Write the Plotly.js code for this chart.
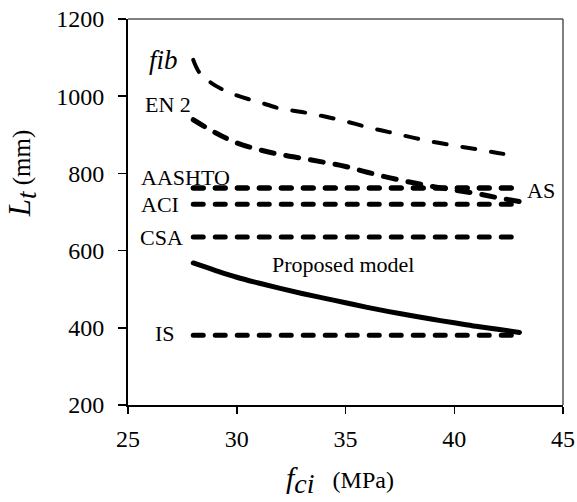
<!DOCTYPE html>
<html>
<head>
<meta charset="utf-8">
<script src="https://cdn.plot.ly/plotly-3.0.1.min.js"></script>
<style>html,body{margin:0;padding:0;background:#fff;} #chart{width:577px;height:502px;}</style>
</head>
<body>
<div id="chart"></div>
<script>
// Concrete strength at transfer, f_ci (MPa)
const fci = [28, 29, 30, 31, 32, 33, 34, 35, 36, 37, 38, 39, 40, 41, 42, 43];
const fibX = [28, 28.3, 29, 30, 31, 32, 33, 34, 35, 36, 37, 38, 39, 40, 41, 42, 43];
const fibY = [1094, 1060, 1028, 1002, 985, 968, 959, 948, 935, 920, 907, 894, 882, 872, 863, 853, 844];
const en2Y = [939, 906, 879, 862, 849, 839, 829, 818, 803, 789, 777, 766, 757, 748, 737, 727];
const proposedY = [568, 549, 531, 516, 502, 489, 477, 465, 453, 442, 432, 422, 413, 404, 396, 388];
const aashtoY = [762, 762, 762, 762, 762, 762, 762, 762, 762, 762, 762, 762, 762, 762, 762, 762];
const asY = [762, 762, 762, 762, 762, 762, 762, 762, 762, 762, 762, 762, 762, 762, 762, 762];
const aciY = [720, 720, 720, 720, 720, 720, 720, 720, 720, 720, 720, 720, 720, 720, 720, 720];
const csaY = [635, 635, 635, 635, 635, 635, 635, 635, 635, 635, 635, 635, 635, 635, 635, 635];
const isY = [381, 381, 381, 381, 381, 381, 381, 381, 381, 381, 381, 381, 381, 381, 381, 381];
const xTicks = [25, 30, 35, 40, 45];
const yTicks = [200, 400, 600, 800, 1000, 1200];

const FONT = "Liberation Serif, Times New Roman, serif";
const hDash = {color: '#000', width: 5, dash: '10px,12px'};

const traces = [
  {x: fibX, y: fibY, name: 'fib', mode: 'lines', line: {color: '#000', width: 4, dash: '13px,16px', shape: 'spline'}},
  {x: fci, y: en2Y, name: 'EN 2', mode: 'lines', line: {color: '#000', width: 5, dash: '13px,12px', shape: 'spline'}},
  {x: fci, y: aashtoY, name: 'AASHTO', mode: 'lines', line: hDash},
  {x: fci, y: asY, name: 'AS', mode: 'lines', line: hDash},
  {x: fci, y: aciY, name: 'ACI', mode: 'lines', line: hDash},
  {x: fci, y: csaY, name: 'CSA', mode: 'lines', line: hDash},
  {x: fci, y: isY, name: 'IS', mode: 'lines', line: hDash},
  {x: fci, y: proposedY, name: 'Proposed model', mode: 'lines', line: {color: '#000', width: 5, shape: 'spline'}}
];

function lab(text, x, y, size, anchor) {
  return {text: text, x: x, y: y, xref: 'x', yref: 'y', showarrow: false,
          xanchor: anchor || 'left', yanchor: 'middle', font: {family: FONT, size: size || 22, color: '#000'}};
}

const layout = {
  width: 577, height: 502,
  margin: {l: 128, r: 14, t: 19, b: 97},
  paper_bgcolor: '#fff', plot_bgcolor: '#fff',
  showlegend: false,
  font: {family: FONT, color: '#000'},
  xaxis: {
    range: [25, 45], tickvals: xTicks, ticktext: xTicks.map(String),
    showline: true, linecolor: '#000', linewidth: 2, ticks: 'outside', ticklen: 7, tickwidth: 1.5, tickcolor: '#000',
    ticklabelstandoff: 4,
    showgrid: false, zeroline: false, tickfont: {family: FONT, size: 24, color: '#000'}
  },
  yaxis: {
    range: [200, 1200], tickvals: yTicks, ticktext: yTicks.map(String),
    showline: true, linecolor: '#000', linewidth: 2, ticks: 'outside', ticklen: 8, tickwidth: 1.5, tickcolor: '#000',
    ticklabelstandoff: 9,
    showgrid: false, zeroline: false, tickfont: {family: FONT, size: 24, color: '#000'}
  },
  shapes: [
    {type: 'line', xref: 'paper', yref: 'paper', x0: 0, x1: 1, y0: 1, y1: 1, line: {color: '#555', width: 1.5}},
    {type: 'line', xref: 'paper', yref: 'paper', x0: 1, x1: 1, y0: 0, y1: 1, line: {color: '#555', width: 1.5}}
  ],
  annotations: [
    lab('<i>fib</i>', 26.65, 1094, 27, 'center'),
    lab('EN 2', 25.7, 979),
    lab('AASHTO', 25.5, 790),
    lab('ACI', 25.5, 719),
    lab('CSA', 25.45, 635),
    lab('IS', 26.15, 385),
    lab('AS', 43.25, 757),
    lab('Proposed model', 34.9, 564, 22, 'center'),
    // axis titles
    {text: '<span style="font-size:30px"><i>f</i></span><sub><span style="font-size:28px"><i>ci</i></span></sub>&nbsp;&nbsp;&nbsp;(MPa)',
     xref: 'paper', yref: 'paper', x: 0.487, y: -0.195, xanchor: 'center', yanchor: 'middle', showarrow: false,
     font: {family: FONT, size: 24, color: '#000'}},
    {text: '<span style="font-size:31px"><i>L</i></span><sub><span style="font-size:27px"><i>t</i></span></sub> (mm)',
     xref: 'paper', yref: 'paper', x: -0.244, y: 0.60, xanchor: 'center', yanchor: 'middle', textangle: -90, showarrow: false,
     font: {family: FONT, size: 25, color: '#000'}}
  ]
};

Plotly.newPlot('chart', traces, layout, {staticPlot: true}).then(function () {
  document.querySelectorAll('#chart .scatterlayer path.js-line').forEach(function (p) {
    p.style.strokeLinecap = 'round';
    p.style.strokeLinejoin = 'round';
  });
});
</script>
</body>
</html>
